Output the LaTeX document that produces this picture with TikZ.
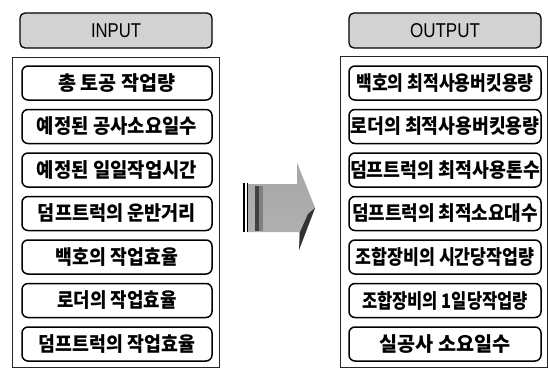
\documentclass[tikz,border=0pt]{standalone}
\usepackage{fontspec}
\setmainfont{Liberation Sans}
\newfontfamily\kr{Noto Sans CJK KR}
\usetikzlibrary{shadings}
\newcommand\fitw[2]{\resizebox{#1pt}{\height}{#2}}
\begin{document}
\begin{tikzpicture}[x=1pt,y=-1pt,
  frame/.style={draw=black!85,line width=0.9pt},
  header/.style={draw=black,line width=1.3pt,rounded corners=5pt,fill=gray!35,
    minimum width=192pt,minimum height=35pt,inner sep=0pt,font=\fontsize{20}{20}\selectfont},
  item/.style={draw=black,line width=1.5pt,rounded corners=6pt,
    minimum width=190pt,minimum height=34pt,inner sep=0pt,
    font=\kr\bfseries\fontsize{20}{20}\selectfont}]
\useasboundingbox (0,0) rectangle (548,369);
% frames
\draw[frame] (12,57) rectangle (219,367);
\draw[frame] (340,56) rectangle (547.4,367);
% headers
\node[header] (in) at (116,30.5) {\fitw{50}{INPUT}};
\node[header] (out) at (445,30.5) {\fitw{70}{OUTPUT}};
% input items
\node[item] (i1) at (117,83) {\fitw{117}{총 토공 작업량}};
\node[item] (i2) at (117,126.5) {\fitw{160}{예정된 공사소요일수}};
\node[item] (i3) at (117,170) {\fitw{160}{예정된 일일작업시간}};
\node[item] (i4) at (117,213.5) {\fitw{158}{덤프트럭의 운반거리}};
\node[item] (i5) at (117,257) {\fitw{122}{백호의 작업효율}};
\node[item] (i6) at (117,300.5) {\fitw{119}{로더의 작업효율}};
\node[item] (i7) at (117,344) {\fitw{156}{덤프트럭의 작업효율}};
% output items
\node[item,minimum width=192pt] (o1) at (445,83) {\fitw{177}{백호의 최적사용버킷용량}};
\node[item,minimum width=192pt] (o2) at (445,126.5) {\fitw{189}{로더의 최적사용버킷용량}};
\node[item,minimum width=192pt] (o3) at (445,170) {\fitw{190}{덤프트럭의 최적사용톤수}};
\node[item,minimum width=192pt] (o4) at (445,213.5) {\fitw{186}{덤프트럭의 최적소요대수}};
\node[item,minimum width=192pt] (o5) at (445,257) {\fitw{179}{조합장비의 시간당작업량}};
\node[item,minimum width=192pt] (o6) at (445,300.5) {\fitw{166}{조합장비의 1일당작업량}};
\node[item,minimum width=192pt] (o7) at (445,344) {\fitw{131}{실공사 소요일수}};
% arrow
\shade[left color=gray!70,middle color=white,right color=gray!60,shading angle=0]
  (248,184) -- (297,184) -- (297,163) -- (315,208) -- (299,250) -- (299,232) -- (248,232) -- cycle;
\draw[gray!60,line width=0.6pt,densely dotted] (297,163) -- (315,208);
\fill[black!80] (315,208) -- (299,250) -- (300,232) -- (308,214) -- cycle;
\fill[black!75] (255,186) rectangle (259,231);
\fill[black!50] (259,186) rectangle (263,231);
\fill[black] (243,183) rectangle (245,232);
\fill[black] (246.5,183) rectangle (248,232);
\end{tikzpicture}
\end{document}
